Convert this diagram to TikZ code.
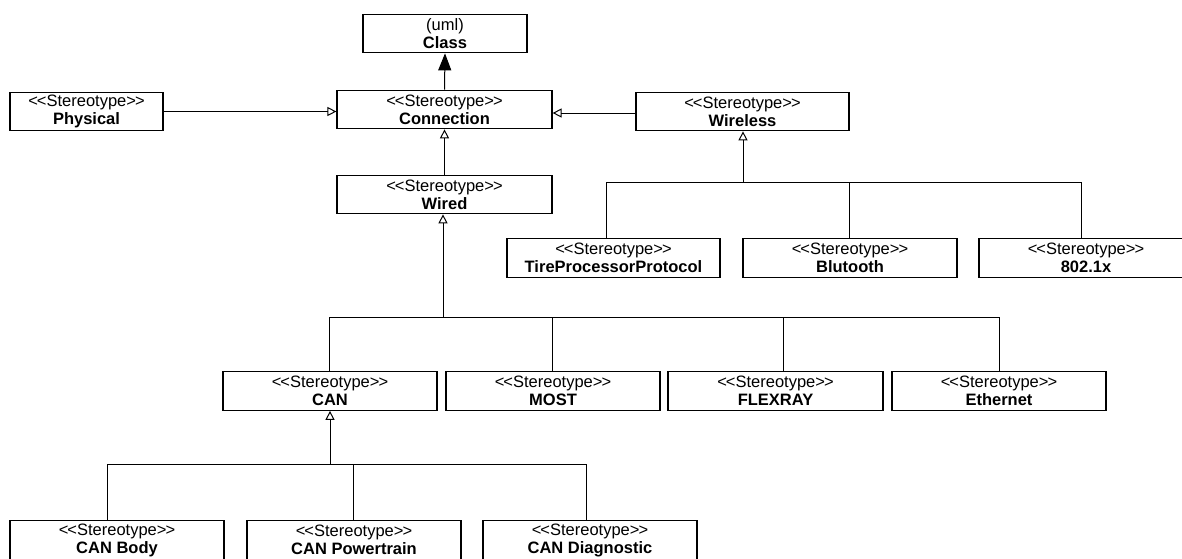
\documentclass[tikz,border=0pt]{standalone}
\usepackage{fontspec}
\setmainfont{Liberation Sans}[Ligatures=TeXOff]
\usetikzlibrary{arrows.meta}
\newcommand{\stlabel}{<\kern-1pt<Stereotype>\kern-1pt>}
\begin{document}
\begin{tikzpicture}[x=1pt,y=-1pt,
  umlbox/.style={draw, line width=1.2pt, rectangle, inner sep=0pt, minimum height=38.5pt,
    align=center, font=\fontsize{16.5}{18}\selectfont},
  gen/.style={line width=1pt, -{Triangle[open, length=9pt, width=9pt, line width=1pt]}},
  inh/.style={line width=1pt, -{Triangle[length=17pt, width=13pt]}},
  wire/.style={line width=1pt}]
\useasboundingbox (0,0) rectangle (1182,558);
\fill[white] (0,0) rectangle (1182,558);

\node[umlbox, minimum width=164pt] (cls) at (445,33.5) {(uml)\\\textbf{Class}};
\node[umlbox, minimum width=215pt] (conn) at (444.5,109.5) {\stlabel\\\textbf{Connection}};
\node[umlbox, minimum width=153pt] (phys) at (86.5,111.5) {\stlabel\\\textbf{Physical}};
\node[umlbox, minimum width=213pt] (wl) at (742.5,111.5) {\stlabel\\\textbf{Wireless}};
\node[umlbox, minimum width=215pt] (wired) at (444.5,194.5) {\stlabel\\\textbf{Wired}};

\node[umlbox, minimum width=213pt] (tire) at (613.5,258) {\stlabel\\\textbf{TireProcessorProtocol}};
\node[umlbox, minimum width=214pt] (blu) at (850,258) {\stlabel\\\textbf{Blutooth}};
\node[umlbox, minimum width=214pt] (x802) at (1086,258) {\stlabel\\\textbf{802.1x}};

\node[umlbox, minimum width=214pt] (can) at (330,391) {\stlabel\\\textbf{CAN}};
\node[umlbox, minimum width=214pt] (most) at (553,391) {\stlabel\\\textbf{MOST}};
\node[umlbox, minimum width=215pt] (flex) at (775.5,391) {\stlabel\\\textbf{FLEXRAY}};
\node[umlbox, minimum width=214pt] (eth) at (999,391) {\stlabel\\\textbf{Ethernet}};

\node[umlbox, minimum width=214pt] (body) at (117,540) {\stlabel\\\textbf{CAN Body}};
\node[umlbox, minimum width=214pt] (power) at (354,540) {\stlabel\\\textbf{CAN Powertrain}};
\node[umlbox, minimum width=214pt] (diag) at (590,540) {\stlabel\\\textbf{CAN Diagnostic}};

% top
\draw[inh] (conn.north) -- (cls.south);
\draw[gen] (phys.east) -- (phys.east -| conn.west);
\draw[gen] ([yshift=-1.5pt]wl.west) -- ([yshift=-1.5pt]wl.west -| conn.east);
\draw[gen] (wired.north) -- (conn.south);

% wireless tree
\coordinate (wbus) at (743,182);
\draw[gen] (wbus) -- (wbus |- wl.south);
\coordinate (wt) at (606,182);
\coordinate (wx) at (1081,182);
\coordinate (wb) at (849,182);
\draw[wire] (wt |- tire.north) -- (wt) -- (wx) -- (wx |- x802.north);
\draw[wire] (wb) -- (wb |- blu.north);

% wired tree
\coordinate (dbus) at (443,317);
\draw[gen] (dbus) -- (dbus |- wired.south);
\coordinate (dc) at (329,317);
\coordinate (de) at (999,317);
\coordinate (dm) at (552,317);
\coordinate (df) at (783,317);
\draw[wire] (dc |- can.north) -- (dc) -- (de) -- (de |- eth.north);
\draw[wire] (dm) -- (dm |- most.north);
\draw[wire] (df) -- (df |- flex.north);

% CAN tree
\coordinate (cbus) at (330,464);
\draw[gen] (cbus) -- (cbus |- can.south);
\coordinate (cb) at (107,464);
\coordinate (cd) at (586,464);
\coordinate (cp) at (353,464);
\draw[wire] (cb |- body.north) -- (cb) -- (cd) -- (cd |- diag.north);
\draw[wire] (cp) -- (cp |- power.north);
\end{tikzpicture}
\end{document}
